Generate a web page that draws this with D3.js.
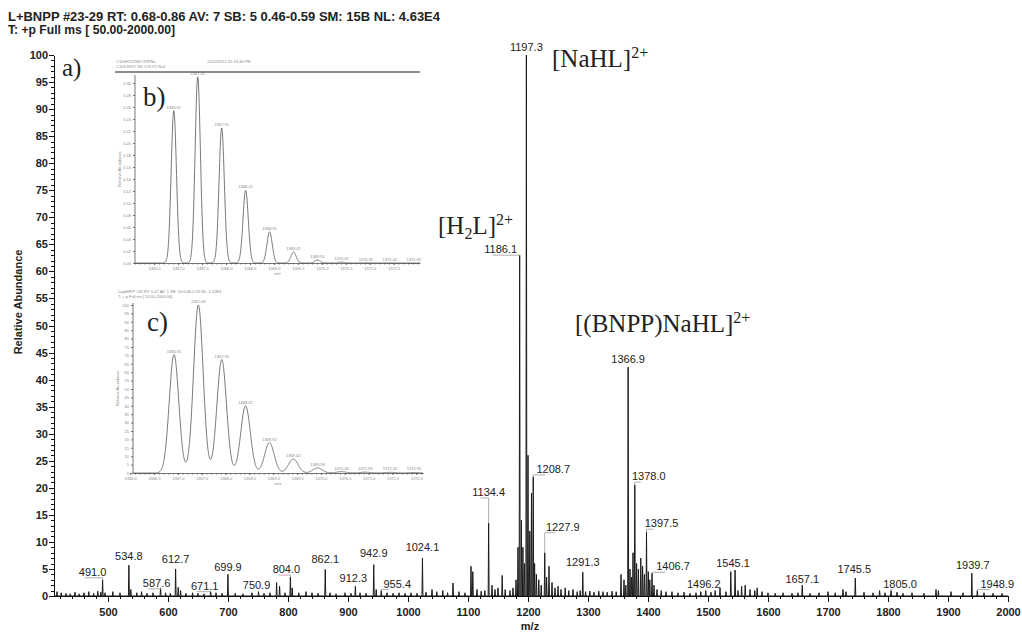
<!doctype html>
<html lang="en">
<head>
<meta charset="utf-8">
<title>L+BNPP ESI-MS spectrum</title>
<script src="https://cdn.jsdelivr.net/npm/d3@7"></script>
<style>
  body { margin: 0; background: #fff; }
  svg { display: block; font-family: "Liberation Sans", Arial, sans-serif; }
  .ax path, .ax line { stroke: #111; stroke-width: 1; shape-rendering: crispEdges; }
  .ax text { font-size: 11px; font-weight: bold; fill: #222; }
  .ins path, .ins line { stroke: #555; stroke-width: 0.8; }
  .ins text { font-size: 4px; fill: #888; }
  .serif { font-family: "Liberation Serif", "Times New Roman", serif; fill: #222; }
</style>
</head>
<body>
<svg id="chart" width="1022" height="634"></svg>
<script>
// ---- main spectrum: labelled peaks (m/z, relative abundance) ----
const labelMz = [491.0, 534.8, 587.6, 612.7, 671.1, 699.9, 750.9, 804.0, 862.1, 912.3,
  942.9, 955.4, 1024.1, 1134.4, 1186.1, 1197.3, 1208.7, 1227.9, 1291.3, 1366.9,
  1378.0, 1397.5, 1406.7, 1496.2, 1545.1, 1657.1, 1745.5, 1805.0, 1939.7, 1948.9];
const labelAb = [3.0, 5.7, 1.5, 5.0, 0.8, 4.0, 0.8, 3.5, 4.9, 1.8,
  5.8, 1.0, 7.0, 13.5, 63.0, 100, 22.0, 8.0, 4.4, 42.3,
  20.5, 11.8, 4.2, 1.0, 4.8, 2.0, 3.3, 1.0, 4.2, 1.0];
// label nudges (px) relative to the peak top
const labelDx = [-10, 0, -4, 0, -6, 0, -2, -4, 0, -2, 0, 16, 0, 0, -19, 0, 20, 18, 0, 0,
  14, 15, 21, -2, -2, 0, -1, 9, 1, 20];
const labelDy = [-4, -5, -1, -6, -2, -3, -3, -4, -6, -4, -8, -3, -7, -27, -2, -4, -4, -22, -6, -4,
  -5, -5, -3, -3, -3, -2, -5, -3, -4, -3];

// ---- main spectrum: unlabelled peaks and baseline noise ----
const minorMz = [415, 422, 430, 437, 445, 452, 460, 468, 476, 483, 488, 495, 508, 520, 538, 548,
  556, 565, 575, 596, 604, 617, 621, 630, 641, 650, 660, 680, 690, 712, 725, 740, 760, 770,
  781, 786, 795, 807, 818, 830, 840, 850, 870, 880, 895, 905, 920, 930, 947, 965, 975, 985,
  995, 1005, 1015, 1030, 1040, 1048, 1058, 1066, 1075, 1085, 1095, 1105, 1108, 1115, 1122,
  1128, 1140, 1145, 1150, 1157, 1162, 1170, 1175, 1180, 1183.3, 1189, 1191.5, 1194, 1200,
  1203, 1205.8, 1211, 1214, 1218, 1222, 1231, 1235, 1240, 1245, 1250, 1255, 1262, 1268,
  1275, 1282, 1287, 1296, 1303, 1310, 1318, 1325, 1332, 1340, 1347, 1355, 1360, 1363, 1370,
  1372.5, 1375, 1381, 1384, 1388, 1391, 1394, 1400.5, 1403, 1410, 1415, 1422, 1430, 1440,
  1450, 1460, 1470, 1480, 1488, 1505, 1512, 1520, 1530, 1538, 1550, 1556, 1562, 1570, 1578,
  1582, 1590, 1600, 1612, 1625, 1640, 1650, 1670, 1685, 1700, 1712, 1725, 1730, 1760, 1775,
  1786, 1795, 1815, 1825, 1840, 1860, 1880, 1884, 1905, 1925, 1960, 1975, 1990];
const minorAb = [0.8, 0.6, 0.5, 0.4, 0.7, 0.4, 0.6, 0.8, 0.5, 0.9, 0.7, 0.6, 0.8, 0.6, 1.2, 0.6,
  0.8, 0.5, 0.6, 0.6, 0.5, 1.6, 1.0, 0.5, 0.6, 0.5, 0.4, 0.6, 0.5, 0.5, 0.4, 0.6, 0.5, 0.6,
  2.5, 1.8, 0.6, 1.5, 0.6, 0.8, 0.6, 0.5, 0.6, 0.4, 0.6, 0.5, 0.6, 0.5, 1.2, 0.6, 0.5, 0.6,
  0.5, 0.6, 0.5, 0.7, 1.2, 0.8, 1.0, 0.6, 2.4, 0.8, 0.6, 5.5, 4.5, 1.2, 0.9,
  1.0, 2.0, 1.2, 1.5, 3.8, 1.2, 1.0, 1.5, 3.0, 9.0, 14.0, 9.0, 6.0, 26.0,
  12.0, 19.0, 6.0, 4.0, 3.0, 2.0, 3.5, 5.5, 2.5, 1.5, 1.8, 1.2, 1.5, 1.0,
  1.2, 0.8, 1.0, 0.8, 0.9, 0.7, 0.9, 0.8, 0.7, 0.9, 0.8, 4.0, 3.0, 2.0, 5.0,
  3.5, 8.0, 6.0, 5.0, 7.0, 5.5, 4.0, 4.5, 3.0, 2.0, 1.2, 1.0, 0.8, 0.8,
  0.6, 0.7, 0.5, 0.6, 0.8, 0.7, 1.0, 1.5, 0.8, 4.5, 1.0, 1.8, 2.0, 1.2, 1.0,
  1.5, 0.8, 0.6, 0.5, 0.6, 0.5, 0.6, 0.5, 0.6, 0.8, 0.6, 1.2, 0.8, 0.7, 0.6,
  1.0, 0.6, 0.7, 0.5, 0.6, 0.5, 1.2, 1.0, 0.8, 0.6, 0.6, 0.5, 0.5];

const xMajorTicks = d3.range(500, 2001, 100);
const xMinorTicks = d3.range(420, 2001, 20).filter(v => v % 100 !== 0);
const yMajorTicks = d3.range(0, 101, 5);
const yMinorTicks = d3.range(0, 101, 1).filter(v => v % 5 !== 0);

// ---- inset b: theoretical isotope pattern ----
const bMz = [1366.91, 1367.41, 1367.91, 1368.41, 1368.91, 1369.41, 1369.91, 1370.41, 1370.92, 1371.42, 1371.92];
const bAb = [0.254, 0.310, 0.225, 0.121, 0.052, 0.018, 0.005, 0.0015, 0.0004, 0.0001, 0.0];
const bTicks = [1366.5, 1367.0, 1367.5, 1368.0, 1368.5, 1369.0, 1369.5, 1370.0, 1370.5, 1371.0, 1371.5];
const bYTicks = d3.range(0, 0.301, 0.02);

// ---- inset c: experimental isotope pattern ----
const cMz = [1365.85, 1366.92, 1367.43, 1367.92, 1368.42, 1368.92, 1369.42, 1369.93, 1370.43, 1370.93, 1371.45, 1371.95];
const cAb = [0.4, 70.5, 100, 67.5, 40.0, 18.0, 8.4, 3.0, 0.8, 0.5, 0.4, 0.3];
const cTicks = [1366.0, 1366.5, 1367.0, 1367.5, 1368.0, 1368.5, 1369.0, 1369.5, 1370.0, 1370.5, 1371.0, 1371.5, 1372.0];
const cYTicks = d3.range(0, 101, 5);

const svg = d3.select("#chart");

// ============================================================
// Main spectrum
// ============================================================
const x = d3.scaleLinear().domain([410, 2000]).range([54, 1008]);
const y = d3.scaleLinear().domain([0, 100]).range([596, 55]);

const allPeaks = labelMz.map((m, i) => [m, labelAb[i]])
  .concat(minorMz.map((m, i) => [m, minorAb[i]]))
  .sort((a, b) => a[0] - b[0]);

const pts = [[410, 0]];
allPeaks.forEach(([m, v]) => { pts.push([m - 0.8, 0], [m, v], [m + 0.8, 0]); });
pts.push([2000, 0]);

svg.append("path")
  .attr("d", d3.line().x(d => x(d[0])).y(d => y(d[1]))(pts))
  .attr("fill", "none")
  .attr("stroke", "#1a1a1a")
  .attr("stroke-width", 1);

// axes
svg.append("g").attr("class", "ax").attr("transform", "translate(0,596)")
  .call(d3.axisBottom(x).tickValues(xMajorTicks).tickSize(6).tickSizeOuter(0).tickPadding(6).tickFormat(d3.format("d")));
svg.append("g").attr("class", "ax").attr("transform", "translate(0,596)")
  .call(d3.axisBottom(x).tickValues(xMinorTicks).tickSize(3).tickFormat(""))
  .select(".domain").remove();

svg.append("g").attr("class", "ax").attr("transform", "translate(54,0)")
  .call(d3.axisLeft(y).tickValues(yMajorTicks).tickSize(5).tickSizeOuter(0).tickPadding(1));
svg.append("g").attr("class", "ax").attr("transform", "translate(54,0)")
  .call(d3.axisLeft(y).tickValues(yMinorTicks).tickSize(3).tickFormat(""))
  .select(".domain").remove();

// peak labels with leader lines
const lab = svg.append("g");
labelMz.forEach((m, i) => {
  const px = x(m), py = y(labelAb[i]);
  const lx = px + labelDx[i], ly = py + labelDy[i];
  if (Math.abs(labelDx[i]) >= 4 || labelDy[i] < -10) {
    lab.append("path")
      .attr("d", `M${lx - 8},${ly + 2}H${px}V${py}`)
      .attr("fill", "none").attr("stroke", "#999").attr("stroke-width", 0.8);
  }
  lab.append("text")
    .attr("x", lx).attr("y", ly)
    .attr("text-anchor", "middle")
    .attr("font-size", 11).attr("fill", "#222")
    .text(m.toFixed(1));
});

// header + axis titles
svg.append("text").attr("x", 8).attr("y", 21).attr("font-size", 12).attr("font-weight", "bold")
  .attr("fill", "#222").attr("textLength", 432).attr("lengthAdjust", "spacingAndGlyphs")
  .text("L+BNPP #23-29   RT: 0.68-0.86   AV: 7   SB: 5  0.46-0.59   SM: 15B   NL: 4.63E4");
svg.append("text").attr("x", 8).attr("y", 34).attr("font-size", 12).attr("font-weight", "bold")
  .attr("fill", "#222").attr("textLength", 167).attr("lengthAdjust", "spacingAndGlyphs")
  .text("T: +p Full ms [ 50.00-2000.00]");
svg.append("text").attr("transform", "translate(22,302) rotate(-90)")
  .attr("text-anchor", "middle").attr("font-size", 11).attr("font-weight", "bold").attr("fill", "#222")
  .text("Relative Abundance");
svg.append("text").attr("x", 530).attr("y", 630).attr("text-anchor", "middle")
  .attr("font-size", 11).attr("font-weight", "bold").attr("fill", "#222").text("m/z");

// ion annotations
function ion(xp, yp, parts) {
  const t = svg.append("text").attr("class", "serif").attr("x", xp).attr("y", yp).attr("font-size", 25);
  parts.forEach(([s, kind]) => {
    const sp = t.append("tspan").text(s);
    if (kind === "sup") sp.attr("font-size", 16).attr("baseline-shift", "9");
    if (kind === "sub") sp.attr("font-size", 16).attr("baseline-shift", "-5");
  });
}
svg.append("text").attr("class", "serif").attr("x", 62).attr("y", 76).attr("font-size", 25).text("a)");
ion(552, 67, [["[NaHL]"], ["2+", "sup"]]);
ion(438, 234, [["[H"], ["2", "sub"], ["L]"], ["2+", "sup"]]);
ion(575, 332, [["[(BNPP)NaHL]"], ["2+", "sup"]]);

// ============================================================
// Insets
// ============================================================
function gaussProfile(centers, heights, sigma, lo, hi) {
  return d3.range(lo, hi, 0.004).map(t => {
    let s = 0;
    centers.forEach((c, i) => { s += heights[i] * Math.exp(-0.5 * ((t - c) / sigma) ** 2); });
    return [t, s];
  });
}

function inset(opt) {
  const g = svg.append("g").attr("class", "ins");
  const sx = d3.scaleLinear().domain(opt.xDom).range(opt.xRange);
  const sy = d3.scaleLinear().domain(opt.yDom).range(opt.yRange);
  g.append("g").attr("transform", `translate(0,${opt.yRange[0]})`)
    .call(d3.axisBottom(sx).tickValues(opt.xTicks).tickSize(2).tickSizeOuter(0).tickPadding(2)
      .tickFormat(d3.format(".1f")));
  g.append("g").attr("transform", `translate(0,${opt.yRange[0]})`)
    .call(d3.axisBottom(sx).tickValues(d3.range(Math.ceil(opt.xDom[0] * 10) / 10, opt.xDom[1], 0.1)).tickSize(1.5).tickFormat(""))
    .select(".domain").remove();
  const gy = g.append("g").attr("transform", `translate(${opt.xRange[0]},0)`)
    .call(d3.axisLeft(sy).tickValues(opt.yTicks).tickSize(2).tickSizeOuter(0).tickPadding(2)
      .tickFormat(opt.yFmt));
  gy.select(".domain").attr("d", `M0,${opt.yRange[0]}V${opt.yTop}`);
  const prof = gaussProfile(opt.mz, opt.ab, opt.sigma, opt.xDom[0], opt.xDom[1]);
  g.append("path")
    .attr("d", d3.line().x(d => sx(d[0])).y(d => sy(d[1]))(prof))
    .attr("fill", "none").attr("stroke", "#333").attr("stroke-width", 1.1);
  opt.mz.forEach((m, i) => {
    if (m < opt.xDom[0] || m > opt.xDom[1]) return;
    g.append("text").attr("x", sx(m)).attr("y", sy(opt.ab[i]) - 2)
      .attr("text-anchor", "middle").text(m.toFixed(2));
  });
  g.append("text").attr("x", (opt.xRange[0] + opt.xRange[1]) / 2).attr("y", opt.yRange[0] + 12)
    .attr("text-anchor", "middle").text("m/z");
  g.append("text")
    .attr("transform", `translate(${opt.xRange[0] - 14},${(opt.yRange[0] + opt.yTop) / 2}) rotate(-90)`)
    .attr("text-anchor", "middle").text(opt.yTitle);
  opt.head.forEach(([hx, hy, s]) => g.append("text").attr("x", hx).attr("y", hy).text(s));
  return g;
}

inset({
  xDom: [1366.1, 1372.05], xRange: [135, 420],
  yDom: [0, 0.30], yRange: [263, 83], yTop: 75,
  xTicks: bTicks, yTicks: bYTicks, yFmt: d3.format(".2f"),
  mz: bMz, ab: bAb, sigma: 0.055, yTitle: "Relative Abundance",
  head: [[116, 63, "C103H157N6O76PNa"], [116, 68, "C103 H157 N6 O76 P1 Na1"], [207, 63, "10/12/2011 05:13:46 PM"]]
});
svg.append("line").attr("x1", 115).attr("x2", 420).attr("y1", 72).attr("y2", 72)
  .attr("stroke", "#666").attr("stroke-width", 1.3);
svg.append("text").attr("class", "serif").attr("x", 143).attr("y", 106).attr("font-size", 27).text("b)");

inset({
  xDom: [1366.06, 1372.14], xRange: [133, 423],
  yDom: [0, 100], yRange: [473, 305], yTop: 303,
  xTicks: cTicks, yTicks: cYTicks, yFmt: d3.format("d"),
  mz: cMz, ab: cAb, sigma: 0.1, yTitle: "Relative Abundance",
  head: [[118, 293, "LapbNPP #43  RT: 0.47  AV: 1  SB: 10  0.46-0.59  NL: 1.52E4"], [118, 298, "T: + p Full ms [ 50.00-2000.00]"]]
});
svg.append("text").attr("class", "serif").attr("x", 147).attr("y", 331).attr("font-size", 27).text("c)");
</script>
</body>
</html>
